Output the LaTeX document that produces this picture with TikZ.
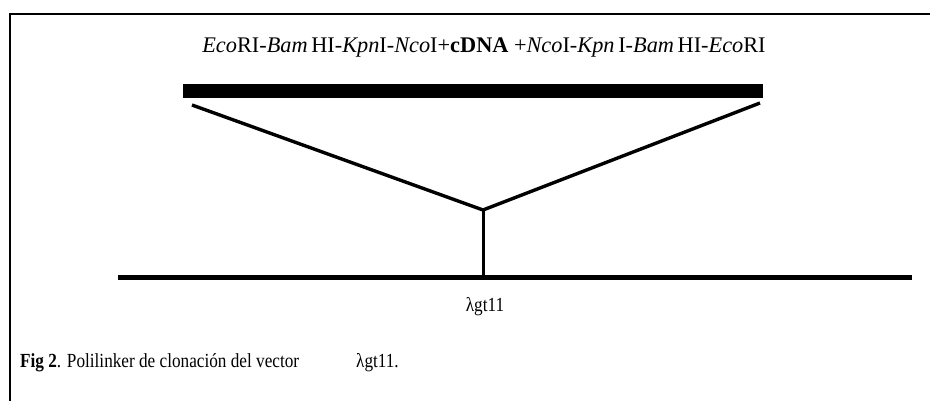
\documentclass[tikz,border=0pt]{standalone}
\usepackage{fontspec}
\setmainfont{Liberation Serif}
\begin{document}
\begin{tikzpicture}[x=1pt,y=-1pt,
  frameline/.style={line width=2.6pt},
  insertbar/.style={fill=black,draw=none,minimum width=580pt,minimum height=14pt,inner sep=0pt},
  armline/.style={line width=3.4pt},
  vectorline/.style={line width=5pt},
  stemline/.style={line width=3pt},
  lbl/.style={inner sep=0pt,font=\fontsize{22.3}{25}\selectfont},
  caplbl/.style={inner sep=0pt,font=\fontsize{20}{23}\selectfont,xscale=0.86,transform shape}]
\useasboundingbox (0,0) rectangle (930,401);

% open frame: top and left edges only
\coordinate (tl) at (10,14);
\coordinate (tr) at (930,14);
\coordinate (bl) at (10,401);
\draw[frameline] (tr) -- (tl) -- (bl);

% linker sequence
\node[lbl] (seq) at (484,48) {\textit{Eco}RI-\textit{Bam}\,HI-\textit{Kpn}I-\textit{Nco}I+\textbf{cDNA} +\textit{Nco}I-\textit{Kpn}\,I-\textit{Bam}\,HI-\textit{Eco}RI};

% cDNA insert
\node[insertbar] (bar) at (472.5,91) {};

% arms joining at the insertion point
\coordinate (armL) at (192,105);
\coordinate (armR) at (760,103);
\coordinate (join) at (483,210);
\draw[armline] (armL) -- (join) -- (armR);

% vector
\coordinate (vecL) at (118,277);
\coordinate (vecR) at (912,277);
\coordinate (site) at (483,277);
\draw[vectorline] (vecL) -- (vecR);
\draw[stemline] (join) -- (site);

\node[caplbl] (vec) at (485,307) {λgt11};

% caption
\node[caplbl,anchor=base west] (cap) at (20,367) {\textbf{Fig 2}. Polilinker de clonación del vector};
\node[caplbl,anchor=base west] (capv) at (356,367) {λgt11.};
\end{tikzpicture}
\end{document}
